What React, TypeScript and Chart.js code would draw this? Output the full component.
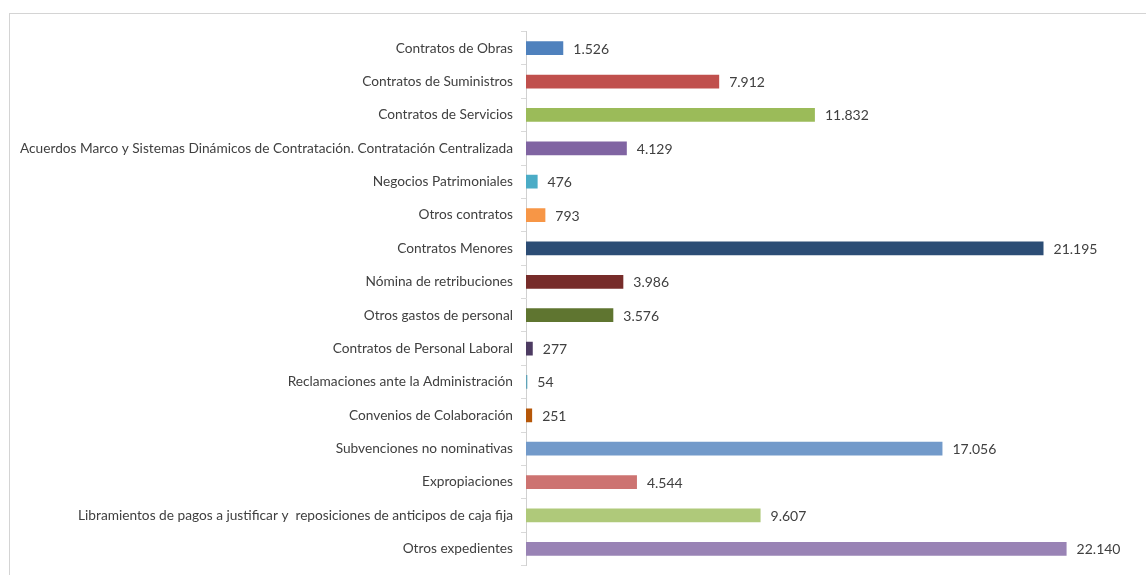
import React, { useEffect, useRef } from "react";
import { Chart, registerables } from "chart.js";

Chart.register(...registerables);

const categories: string[] = [
  "Contratos de Obras",
  "Contratos de Suministros",
  "Contratos de Servicios",
  "Acuerdos Marco y Sistemas Dinámicos de Contratación. Contratación Centralizada",
  "Negocios Patrimoniales",
  "Otros contratos",
  "Contratos Menores",
  "Nómina de retribuciones",
  "Otros gastos de personal",
  "Contratos de Personal Laboral",
  "Reclamaciones ante la Administración",
  "Convenios de Colaboración",
  "Subvenciones no nominativas",
  "Expropiaciones",
  "Libramientos de pagos a justificar y  reposiciones de anticipos de caja fija",
  "Otros expedientes",
];

const values: number[] = [
  1526, 7912, 11832, 4129, 476, 793, 21195, 3986, 3576, 277, 54, 251, 17056, 4544, 9607, 22140,
];

const barColors: string[] = [
  "#4F81BD", "#C0504D", "#9BBB59", "#8064A2", "#4BACC6", "#F79646",
  "#2C4D75", "#772C2A", "#5F7530", "#4D3B62", "#5FA3B8", "#B65708",
  "#729ACA", "#CD7371", "#AFC97A", "#9983B5",
];

const xMax = 24000;

const FONT = "Lato, 'Open Sans', sans-serif";

function fmt(v: number): string {
  return String(v).replace(/\B(?=(\d{3})+(?!\d))/g, ".");
}

const valueLabelPlugin = {
  id: "valueLabels",
  afterDatasetsDraw(chart: any) {
    const ctx = chart.ctx;
    const meta = chart.getDatasetMeta(0);
    ctx.save();
    ctx.font = `14px ${FONT}`;
    ctx.fillStyle = "#404040";
    ctx.textAlign = "left";
    ctx.textBaseline = "middle";
    meta.data.forEach((bar: any, i: number) => {
      ctx.fillText(fmt(values[i]), bar.x + 10, bar.y + 1);
    });
    ctx.restore();
  },
};

export default function App() {
  const canvasRef = useRef<HTMLCanvasElement | null>(null);

  useEffect(() => {
    if (!canvasRef.current) return;
    const chart = new Chart(canvasRef.current, {
      type: "bar",
      data: {
        labels: categories,
        datasets: [
          {
            data: values,
            backgroundColor: barColors,
            borderWidth: 0,
            barPercentage: 0.41,
            categoryPercentage: 1,
          },
        ],
      },
      options: {
        indexAxis: "y",
        animation: false,
        responsive: false,
        layout: { padding: { left: 0, right: 34, top: 17.5, bottom: 9.5 } },
        plugins: {
          legend: { display: false },
          tooltip: { enabled: false },
          title: { display: false },
        },
        scales: {
          x: {
            display: false,
            min: 0,
            max: xMax,
          },
          y: {
            afterFit(scale: any) {
              scale.width = 516;
              scale.paddingTop = 0;
              scale.paddingBottom = 0;
            },
            grid: {
              offset: true,
              drawOnChartArea: false,
              drawTicks: true,
              tickLength: 5,
              color: "#d9d9d9",
            },
            border: { display: true, color: "#d0d0d0", width: 1 },
            ticks: {
              color: "#404040",
              padding: 8,
              autoSkip: false,
              font: { family: FONT, size: 13.7 },
            },
          },
        },
      },
      plugins: [valueLabelPlugin],
    });
    return () => chart.destroy();
  }, []);

  return (
    <div
      style={{
        position: "fixed",
        left: 9,
        top: 13,
        width: 1137,
        height: 562,
        borderLeft: "1px solid #d4d4d4",
        borderTop: "1px solid #d4d4d4",
        background: "#fff",
        overflow: "hidden",
      }}
    >
      <canvas ref={canvasRef} width={1136} height={561} style={{ display: "block" }} />
    </div>
  );
}
